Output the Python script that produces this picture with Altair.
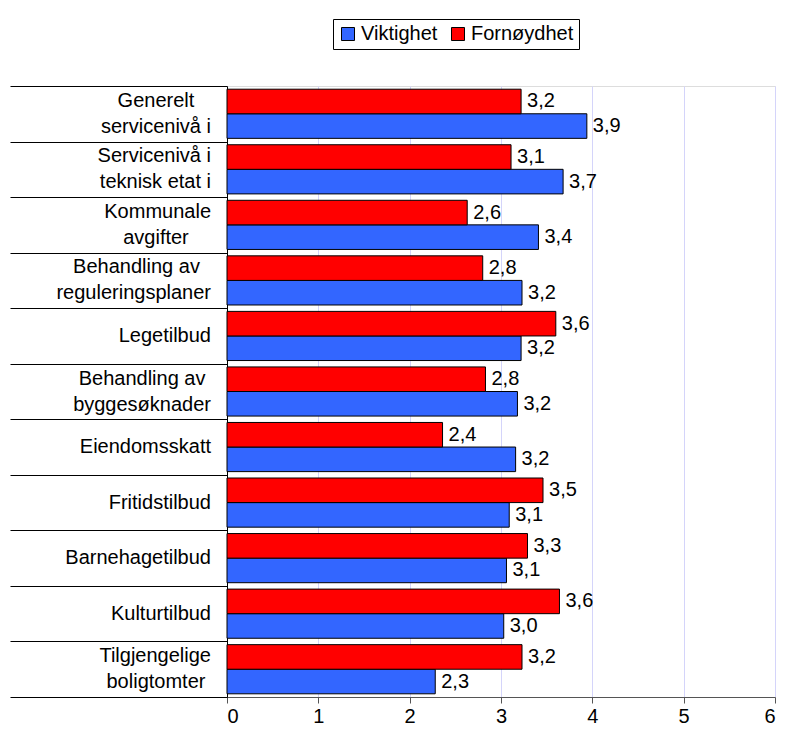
import altair as alt
import pandas as pd

NB = "\u00a0"
ZW = "\u200b"  # keeps the trailing non-breaking spaces from being trimmed
categories = [
    "Generelt" + NB * 3 + ZW + "|servicenivå i",
    "Servicenivå i|teknisk etat i",
    "Kommunale|avgifter" + NB * 4 + ZW,
    "Behandling av" + NB * 2 + ZW + "|reguleringsplaner",
    "Legetilbud",
    "Behandling av" + NB + ZW + "|byggesøknader",
    "Eiendomsskatt",
    "Fritidstilbud",
    "Barnehagetilbud",
    "Kulturtilbud",
    "Tilgjengelige|boligtomter" + NB + ZW,
]
viktighet = [3.94, 3.68, 3.41, 3.23, 3.22, 3.18, 3.16, 3.09, 3.06, 3.03, 2.28]
fornoydhet = [3.22, 3.11, 2.63, 2.80, 3.60, 2.83, 2.36, 3.46, 3.29, 3.64, 3.23]
series_names = ["Viktighet", "Fornøydhet"]
series_colors = ["#3366ff", "#ff0000"]
x_ticks = [0, 1, 2, 3, 4, 5, 6]

rows = []
for c, v, f in zip(categories, viktighet, fornoydhet):
    rows.append({"cat": c, "series": "Viktighet", "value": v})
    rows.append({"cat": c, "series": "Fornøydhet", "value": f})
df = pd.DataFrame(rows)
df["label"] = df["value"].map(lambda v: f"{v:.1f}".replace(".", ","))
cat_df = pd.DataFrame({"cat": categories})

FONT = "Liberation Sans"
FS = 20

y_enc = alt.Y(
    "cat:N",
    sort=categories,
    scale=alt.Scale(paddingInner=0, paddingOuter=0),
    axis=alt.Axis(
        title=None,
        labels=False,
        tickBand="extent",
        tickSize=217,
        tickColor="black",
        tickWidth=1,
        domainColor="black",
        domainWidth=1,
        grid=False,
    ),
)

base = alt.Chart(df).encode(
    y=y_enc,
    yOffset=alt.YOffset(
        "series:N",
        sort=["Fornøydhet", "Viktighet"],
        scale=alt.Scale(paddingInner=0, paddingOuter=0.13),
    ),
)

bars = base.mark_bar(stroke="black", strokeWidth=1).encode(
    x=alt.X(
        "value:Q",
        scale=alt.Scale(domain=[0, 6], nice=False),
        axis=alt.Axis(
            title=None,
            values=x_ticks,
            format="d",
            labelFont=FONT,
            labelFontSize=FS,
            labelColor="black",
            labelPadding=3,
            tickSize=6,
            tickColor="#555555",
            domainColor="#555555",
            gridColor="#d4d4fa",
            gridWidth=1,
        ),
    ),
    color=alt.Color(
        "series:N",
        scale=alt.Scale(domain=series_names, range=series_colors),
        legend=alt.Legend(
            title=None,
            orient="none",
            legendX=106,
            legendY=-67,
            direction="horizontal",
            strokeColor="black",
            padding=5,
            symbolType="square",
            symbolSize=169,
            symbolStrokeColor="black",
            symbolStrokeWidth=1,
            labelFont=FONT,
            labelFontSize=FS,
            labelColor="black",
            labelOffset=3,
            columnPadding=10,
        ),
    ),
)

text = base.mark_text(
    align="left", baseline="middle", dx=6, font=FONT, fontSize=FS, color="black"
).encode(x=alt.X("value:Q"), text="label:N")

cat_labels = alt.Chart(cat_df).mark_text(
    align="right",
    baseline="middle",
    font=FONT,
    fontSize=FS,
    color="black",
    lineBreak="|",
    lineHeight=26,
    dy=alt.ExprRef("indexof(datum.cat, '|') >= 0 ? -13 : 0"),
).encode(
    y=alt.Y("cat:N", sort=categories),
    x=alt.value(-16),
    text="cat:N",
)

chart = (
    alt.layer(bars, text, cat_labels)
    .properties(
        width=548,
        height=611,
        autosize="none",
        padding={"left": 219, "top": 78, "right": 6, "bottom": 31},
    )
    .configure_view(stroke="#888888", strokeWidth=1)
    .configure(background="white")
)

chart.save("out.html", embed_options={"renderer": "svg", "actions": False})
